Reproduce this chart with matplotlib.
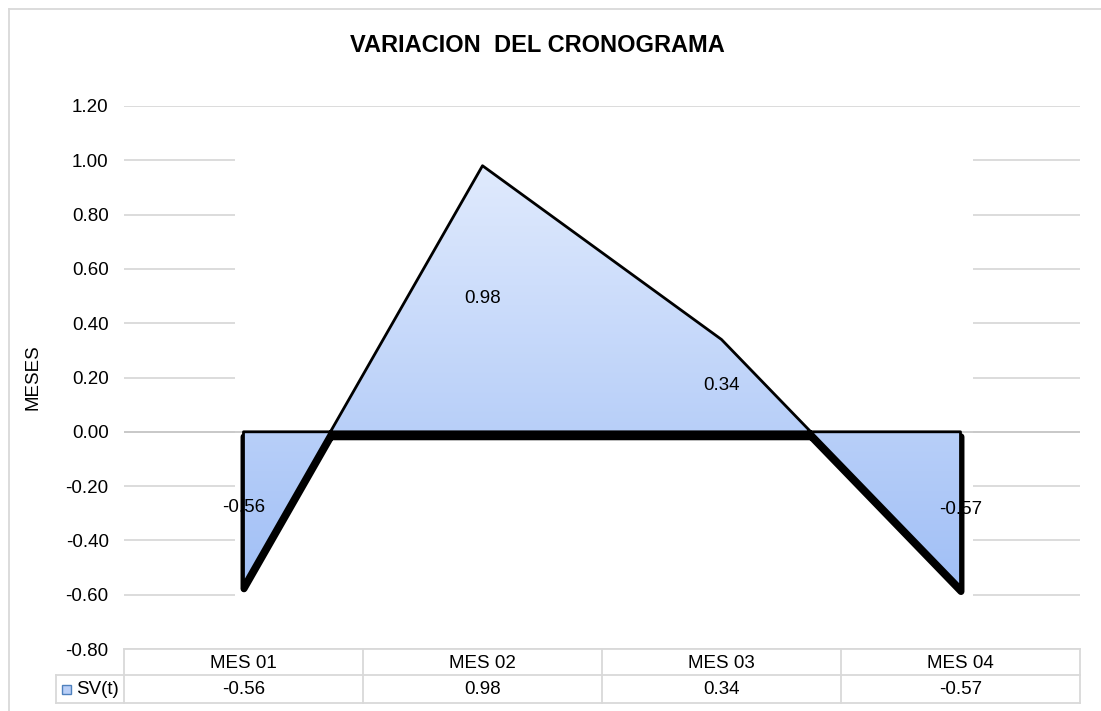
import matplotlib
matplotlib.use('Agg')
import matplotlib.pyplot as plt
import numpy as np
from matplotlib.path import Path
from matplotlib.patches import PathPatch, Rectangle
from matplotlib.lines import Line2D
import matplotlib.transforms as mtransforms

plt.rcParams['font.family'] = ['Liberation Sans', 'DejaVu Sans']

# ---- data ----
categories = ['MES 01', 'MES 02', 'MES 03', 'MES 04']
values = [-0.56, 0.98, 0.34, -0.57]
series_name = 'SV(t)'
yticks = [-0.80, -0.60, -0.40, -0.20, 0.00, 0.20, 0.40, 0.60, 0.80, 1.00, 1.20]
title = 'VARIACION  DEL CRONOGRAMA'
ylabel = 'MESES'

W, H = 1101, 711
fig = plt.figure(figsize=(W / 100, H / 100), dpi=100)
L, R, T, B = 124, 1080, 106, 649
ax = fig.add_axes([L / W, 1 - B / H, (R - L) / W, (B - T) / H])

n = len(values)
x = np.arange(n)
grid_c = '#d9d9d9'

# polygon of the area (between the series line and zero)
verts = [(x[0], 0.0)] + list(zip(x, values)) + [(x[-1], 0.0), (x[0], 0.0)]
codes = [Path.MOVETO] + [Path.LINETO] * (len(verts) - 2) + [Path.CLOSEPOLY]
path = Path(np.array(verts, dtype=float), codes)

# white box hiding the gridlines behind the area
ax.add_patch(Rectangle((x[0] - 0.036, -0.65), (x[-1] - x[0]) + 0.088, 1.70,
                       fc='white', ec='none', zorder=1))
ax.axhline(0, color='#c8c8c8', lw=1.3, zorder=1.5)

# shadow
shadow_tr = ax.transData + mtransforms.ScaledTranslation(0.5 / 100, -5 / 100, fig.dpi_scale_trans)
ax.add_patch(PathPatch(path, fc='black', ec='black', lw=5, joinstyle='round',
                       capstyle='round', transform=shadow_tr, zorder=2))

# gradient fill
clip_patch = PathPatch(path, fc='none', ec='none', zorder=3)
ax.add_patch(clip_patch)
top_c = np.array([0.878, 0.918, 0.992])
bot_c = np.array([0.63, 0.75, 0.965])
N = 256
t = np.linspace(0, 1, N)[:, None]
grad = (top_c[None, :] * (1 - t) + bot_c[None, :] * t)[:, None, :]
im = ax.imshow(grad, extent=(x[0] - 0.1, x[-1] + 0.1, min(values), max(values)),
               aspect='auto', origin='upper', zorder=3, interpolation='bilinear')
im.set_clip_path(clip_patch)

# data labels
for xi, v in zip(x, values):
    ax.text(xi, v / 2, f'{v:.2f}', ha='center', va='center', fontsize=13.5, zorder=3.5)

# outline
ax.add_patch(PathPatch(path, fc='none', ec='black', lw=2, joinstyle='round', zorder=4))

ax.set_xlim(-0.5, n - 0.5)
ax.set_ylim(-0.8, 1.2)
ax.set_yticks(yticks)
ax.set_yticklabels([f'{v:.2f}' for v in yticks])
ax.set_xticks([])
ax.tick_params(axis='y', length=0, pad=11, labelsize=13.5)
for s in ax.spines.values():
    s.set_visible(False)
ax.yaxis.grid(True, color=grid_c, lw=1.3, zorder=0)
ax.set_axisbelow(True)

# title and axis label
fig.text(537 / W, 1 - 46 / H, title, ha='center', va='center', fontsize=17, fontweight='bold')
fig.text(33 / W, 1 - 377 / H, ylabel, rotation=90, ha='center', va='center', fontsize=13.5)

# data table
def fx(px):
    return px / W

def fy(py):
    return 1 - py / H

y0, y1, y2 = 649, 675, 703
leg_l = 56
colw = (R - L) / n
edges = [L + i * colw for i in range(n + 1)]
lines = [((L, R), (y0, y0)), ((leg_l, R), (y1, y1)), ((leg_l, R), (y2, y2)),
         ((leg_l, leg_l), (y1, y2))]
for e in edges:
    lines.append(((e, e), (y0, y2)))
for (xs, ys) in lines:
    fig.add_artist(Line2D([fx(xs[0]), fx(xs[1])], [fy(ys[0]), fy(ys[1])],
                          color=grid_c, lw=1.3, transform=fig.transFigure))
for i, (c, v) in enumerate(zip(categories, values)):
    cx = edges[i] + colw / 2
    fig.text(fx(cx), fy(663), c, ha='center', va='center', fontsize=13.5)
    fig.text(fx(cx), fy(690), f'{v:.2f}', ha='center', va='center', fontsize=13.5)
fig.add_artist(Rectangle((fx(62), fy(694)), 9 / W, 9 / H, fc='#b9cff7', ec='#4f81bd',
                         lw=1, transform=fig.transFigure))
fig.text(fx(76), fy(690), series_name, ha='left', va='center', fontsize=13.5)

# outer chart border
fig.add_artist(Line2D([fx(9), fx(9)], [fy(9), fy(711)], color=grid_c, lw=1.3, transform=fig.transFigure))
fig.add_artist(Line2D([fx(9), fx(1101)], [fy(9), fy(9)], color=grid_c, lw=1.3, transform=fig.transFigure))

fig.savefig('out.png', dpi=100)
